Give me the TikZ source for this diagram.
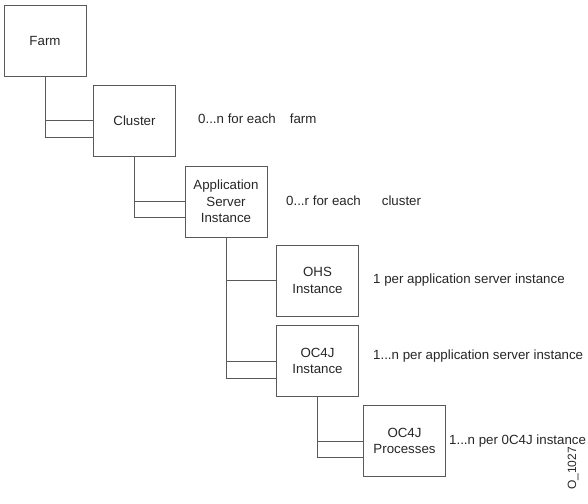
\documentclass[tikz,border=0pt]{standalone}
\usepackage{fontspec}
\setmainfont{Liberation Sans}
\begin{document}
\begin{tikzpicture}[x=1pt, y=-1pt,
    every node/.style={font=\fontsize{13.3}{16.5}\selectfont, text=black!85},
    box/.style={rectangle, draw=black!65, line width=0.9pt, minimum width=82pt, minimum height=71pt, align=center, inner sep=0pt},
    link/.style={draw=black!65, line width=0.9pt},
    note/.style={anchor=west, inner sep=0pt}]
                \useasboundingbox (0,0) rectangle (588,503);

                    \node[box] (farm) at (45,41) {Farm};
                    \node[box] (cluster) at (134.5,120.5) {Cluster};
                    \node[box] (app) at (226,201.5) {Application\\Server\\Instance};
                    \node[box] (ohs) at (317.5,280.5) {OHS\\Instance};
                    \node[box] (inst) at (317.5,361) {OC4J\\Instance};
                    \node[box] (proc) at (404.5,441) {OC4J\\Processes};

                    \draw[link] (farm.south) |- ([yshift=-17]cluster.west);
                    \draw[link] (farm.south |- cluster.west) -- (cluster.west);
                    \draw[link] (cluster.south) |- ([yshift=-16]app.west);
                    \draw[link] (cluster.south |- app.west) -- (app.west);
                    \draw[link] (app.south) |- ([yshift=-17]inst.west);
                    \draw[link] (app.south |- ohs.west) -- (ohs.west);
                    \draw[link] (app.south |- inst.west) -- (inst.west);
                    \draw[link] (inst.south) |- ([yshift=-16]proc.west);
                    \draw[link] (inst.south |- proc.west) -- (proc.west);

                    \node[note] (nfarm) at (198,119) {0...n for each\hspace{14pt}farm};
                    \node[note] (ncluster) at (286,201) {0...r for each\hspace{21pt}cluster};
                    \node[note] (nohs) at (373,280) {1 per application server instance};
                    \node[note] (ninst) at (373,356) {1...n per application server instance};
                    \node[note] (nproc) at (449,441) {1...n per 0C4J instance};
                    \node[rotate=90, anchor=east, inner sep=0pt, font=\fontsize{12}{14}\selectfont] (fig) at (573,447) {O\_1027};

                \end{tikzpicture}
\end{document}
